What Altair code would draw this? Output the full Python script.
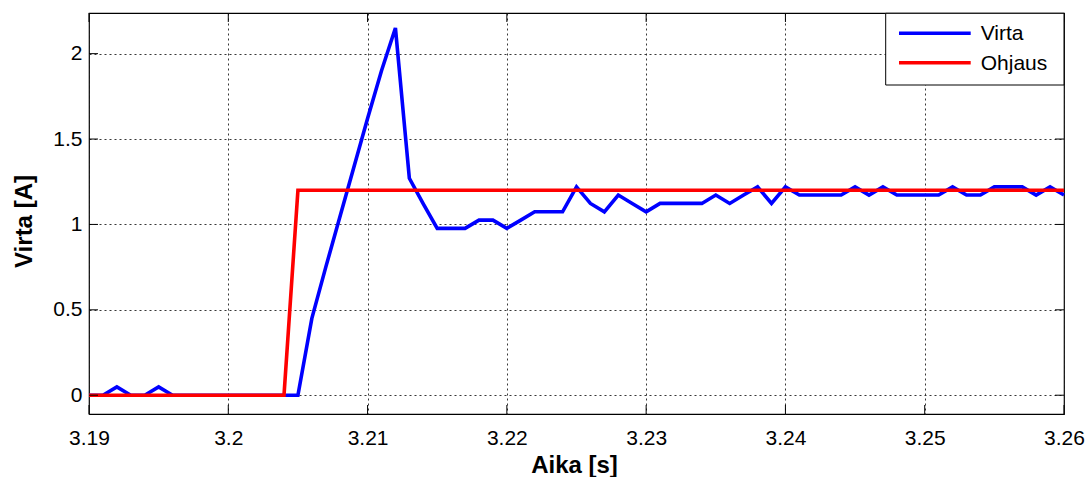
import altair as alt
import pandas as pd

# --- data ---
aika = [round(3.190 + i * 0.001, 3) for i in range(71)]
virta = [
    0.0, 0.0, 0.049, 0.0, 0.0, 0.049, 0.0, 0.0, 0.0, 0.0,      # 3.190-3.199
    0.0, 0.0, 0.0, 0.0, 0.0, 0.0, 0.45, 0.75, 1.04, 1.33,      # 3.200-3.209
    1.62, 1.90, 2.15, 1.27, 1.12, 0.977, 0.977, 0.977, 1.025, 1.025,  # 3.210-3.219
    0.977, 1.025, 1.074, 1.074, 1.074, 1.22, 1.123, 1.074, 1.172, 1.123,  # 3.220-3.229
    1.074, 1.123, 1.123, 1.123, 1.123, 1.172, 1.123, 1.172, 1.22, 1.123,  # 3.230-3.239
    1.22, 1.172, 1.172, 1.172, 1.172, 1.22, 1.172, 1.22, 1.172, 1.172,    # 3.240-3.249
    1.172, 1.172, 1.22, 1.172, 1.172, 1.22, 1.22, 1.22, 1.172, 1.22,      # 3.250-3.259
    1.172,                                                               # 3.260
]
ohjaus_t = [3.190, 3.204, 3.205, 3.260]
ohjaus_v = [0.0, 0.0, 1.2, 1.2]

x_ticks = [3.19, 3.20, 3.21, 3.22, 3.23, 3.24, 3.25, 3.26]
y_ticks = [0, 0.5, 1, 1.5, 2]
x_domain = [3.19, 3.26]
y_domain = [-0.11, 2.238]

series_names = ["Virta", "Ohjaus"]
series_colors = ["#0000FF", "#FF0000"]

W, H = 975, 401
FONT = "Liberation Sans"

df_virta = pd.DataFrame({"t": aika, "v": virta})
df_ohjaus = pd.DataFrame({"t": ohjaus_t, "v": ohjaus_v})
df_xt = pd.DataFrame({"t": x_ticks})
df_yt = pd.DataFrame({"v": y_ticks})

xs = alt.Scale(domain=x_domain, nice=False, zero=False)
ys = alt.Scale(domain=y_domain, nice=False, zero=False)

x_axis = alt.Axis(
    values=x_ticks, format=".2~f", title="Aika [s]", grid=True,
    labelFlush=False, labelOverlap=False,
    titleX=485, titleY=58.7, titleBaseline="alphabetic", titleAlign="center",
)
y_axis = alt.Axis(
    values=y_ticks, format=".1~f", title="Virta [A]", grid=True,
    labelFlush=False, labelOverlap=False,
    titleX=-57.3, titleY=208, titleBaseline="alphabetic", titleAlign="center",
    titleAngle=270,
)

virta_line = alt.Chart(df_virta).mark_line(
    color=series_colors[0], strokeWidth=3.6, strokeJoin="miter", strokeCap="butt"
).encode(
    x=alt.X("t:Q", scale=xs, axis=x_axis),
    y=alt.Y("v:Q", scale=ys, axis=y_axis),
)

ohjaus_line = alt.Chart(df_ohjaus).mark_line(
    color=series_colors[1], strokeWidth=3.6, strokeJoin="miter", strokeCap="butt"
).encode(
    x=alt.X("t:Q", scale=xs),
    y=alt.Y("v:Q", scale=ys),
)

# inward tick marks (MATLAB style), on all four sides
tick_len = 9
xt_bottom = alt.Chart(df_xt).mark_rule(color="black", strokeWidth=1).encode(
    x=alt.X("t:Q", scale=xs), y=alt.value(H), y2=alt.value(H - tick_len))
xt_top = alt.Chart(df_xt).mark_rule(color="black", strokeWidth=1).encode(
    x=alt.X("t:Q", scale=xs), y=alt.value(0), y2=alt.value(tick_len))
yt_left = alt.Chart(df_yt).mark_rule(color="black", strokeWidth=1).encode(
    y=alt.Y("v:Q", scale=ys), x=alt.value(0), x2=alt.value(tick_len))
yt_right = alt.Chart(df_yt).mark_rule(color="black", strokeWidth=1).encode(
    y=alt.Y("v:Q", scale=ys), x=alt.value(W), x2=alt.value(W - tick_len))

# legend box (inside top-right corner)
one = alt.Data(values=[{}])
lx0, lx1, ly0, ly1 = 796.7, W, 0.3, 72
leg_box = alt.Chart(one).mark_rect(fill="white", stroke="black", strokeWidth=1).encode(
    x=alt.value(lx0), x2=alt.value(lx1), y=alt.value(ly0), y2=alt.value(ly1))
rows_y = [20.3, 49.7]
leg_layers = [leg_box]
for name, col, yy in zip(series_names, series_colors, rows_y):
    leg_layers.append(
        alt.Chart(one).mark_rule(color=col, strokeWidth=3.6).encode(
            x=alt.value(810), x2=alt.value(881.7), y=alt.value(yy)))
    leg_layers.append(
        alt.Chart(one).mark_text(
            text=name, font=FONT, fontSize=21, color="black",
            align="left", baseline="middle").encode(
            x=alt.value(891.7), y=alt.value(yy + 1)))

chart = alt.layer(
    virta_line, ohjaus_line, xt_bottom, xt_top, yt_left, yt_right, *leg_layers
).properties(
    width=W, height=H,
    autosize=alt.AutoSizeParams(type="none"),
    padding={"left": 89, "top": 13, "right": 1088 - 89 - W, "bottom": 477 - 13 - H},
    background="white",
).configure_view(
    stroke="black", strokeWidth=1.2
).configure_axis(
    domain=False, ticks=False,
    gridColor="#222222", gridDash=[2, 3], gridWidth=1, gridOpacity=0.9,
    labelFont=FONT, labelFontSize=21, labelColor="black",
    titleFont=FONT, titleFontSize=24, titleFontWeight="bold", titleColor="black",
).configure_axisX(
    labelPadding=13,
).configure_axisY(
    labelPadding=7,
)

chart.save("out.html", embed_options={"renderer": "svg", "actions": False})
